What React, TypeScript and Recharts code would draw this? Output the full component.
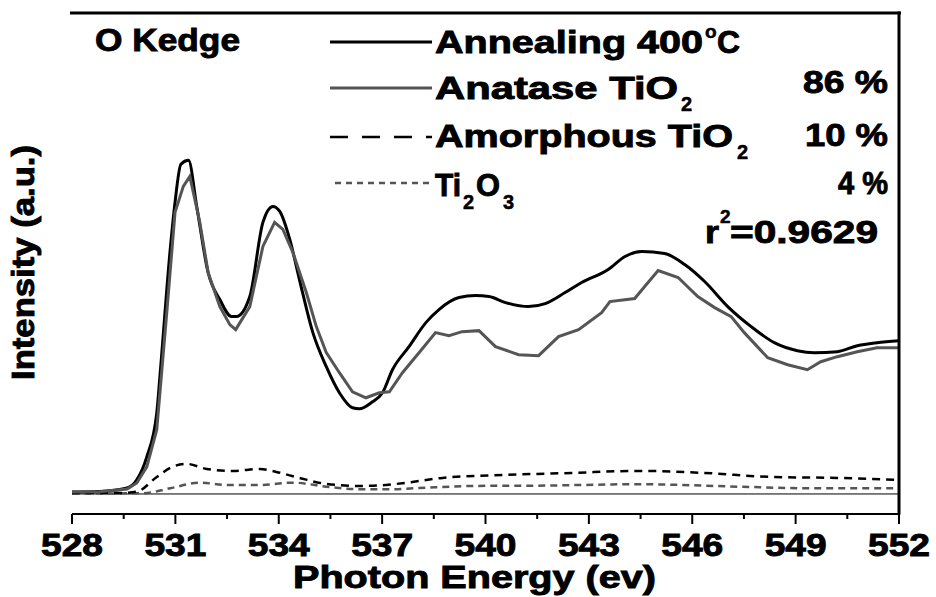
import { LineChart, Line, XAxis, YAxis, ReferenceLine } from 'recharts'

// photon energy (eV) / intensity (a.u.)
const annealing = [
  [528.0, 0.2], [528.8, 0.25], [529.6, 0.6], [529.88, 1.4], [530.17, 3.7], [530.46, 8.1],
  [530.56, 12.1], [530.85, 24.4], [530.99, 29.1], [531.16, 32.9], [531.38, 33.3],
  [531.62, 28.7], [531.95, 22.1], [532.29, 19.4], [532.63, 17.7], [532.77, 17.7],
  [533.16, 19.7], [533.54, 27.1], [533.83, 28.7], [534.03, 28.2], [534.32, 25.4],
  [534.6, 21.4], [534.99, 16.1], [535.38, 12.7], [535.76, 10.1], [536.14, 8.6],
  [536.34, 8.5], [536.72, 9.2], [537.01, 10.1], [537.3, 12.4], [537.78, 14.7],
  [538.27, 17.1], [538.65, 18.4], [539.23, 19.6], [539.71, 19.8], [540.1, 19.7],
  [540.58, 19.1], [541.25, 18.7], [541.73, 19.0], [542.31, 20.1], [542.79, 21.1],
  [543.56, 22.4], [544.05, 23.7], [544.53, 24.2], [545.2, 24.0], [545.78, 22.9],
  [546.36, 21.2], [547.03, 18.7], [547.71, 16.7], [548.38, 15.1], [549.05, 14.3],
  [549.54, 14.1], [550.21, 14.2], [550.79, 14.8], [551.36, 15.1], [552.0, 15.3],
]

const anatase = [
  [528.0, 0.2], [528.8, 0.22], [529.6, 0.5], [529.88, 1.1], [530.17, 2.7], [530.46, 6.4],
  [530.75, 18.1], [530.99, 28.1], [531.23, 30.7], [531.42, 31.7], [531.71, 27.1],
  [531.95, 22.1], [532.29, 18.7], [532.58, 16.9], [532.75, 16.4], [533.16, 18.7],
  [533.54, 24.7], [533.88, 27.1], [534.12, 26.4], [534.41, 24.1], [534.8, 20.1],
  [535.09, 16.7], [535.38, 14.1], [535.76, 12.1], [536.14, 10.2], [536.53, 9.6],
  [536.92, 10.1], [537.21, 10.2], [537.59, 12.1], [538.07, 14.1], [538.55, 16.1],
  [538.94, 15.8], [539.32, 16.2], [539.81, 16.3], [540.29, 14.7], [540.96, 13.9],
  [541.54, 13.8], [542.12, 15.7], [542.7, 16.4], [543.37, 18.1], [543.61, 19.2],
  [544.33, 19.5], [544.62, 20.7], [545.01, 22.3], [545.59, 21.6], [546.16, 19.7],
  [546.65, 18.6], [547.13, 17.7], [547.51, 16.1], [548.19, 13.6], [548.77, 12.9],
  [549.34, 12.4], [549.73, 13.2], [550.21, 13.7], [550.79, 14.2], [551.36, 14.6],
  [552.0, 14.6],
]

const amorphous = [
  [528.0, 0.1], [529.4, 0.1], [529.88, 0.23], [530.46, 1.7], [530.85, 2.6], [531.33, 3.0],
  [531.91, 2.5], [532.68, 2.3], [533.45, 2.5], [533.93, 2.2], [534.6, 1.6], [535.38, 1.0],
  [536.34, 0.8], [537.11, 0.9], [537.88, 1.2], [538.75, 1.6], [540.58, 1.9], [542.5, 2.1],
  [544.43, 2.3], [546.36, 2.1], [548.28, 1.7], [550.21, 1.6], [552.0, 1.4],
]

const ti2o3 = [
  [528.0, 0.05], [530.08, 0.07], [530.85, 0.57], [531.71, 1.13], [532.48, 0.9],
  [533.45, 0.9], [534.41, 1.13], [535.38, 0.73], [536.34, 0.47], [537.3, 0.47],
  [538.27, 0.63], [539.71, 0.8], [541.54, 0.83], [544.43, 0.97], [547.32, 0.73],
  [549.25, 0.57], [552.0, 0.57],
]

const majorTicks = [528, 531, 534, 537, 540, 543, 546, 549, 552]
const minorTicks = [529.5, 532.5, 535.5, 538.5, 541.5, 544.5, 547.5, 550.5]

const toRows = (pts: number[][]) => pts.map(([e, v]) => ({ e, v }))

const FONT = '"Liberation Sans", Arial, sans-serif'

const XTick = (props: any) => {
  const { x, y, payload } = props
  const major = majorTicks.includes(payload.value)
  return (
    <g>
      <line x1={x} x2={x} y1={y} y2={y + (major ? 10 : 5)} stroke="#000" strokeWidth={2} />
      {major && (
        <text
          x={x}
          y={y + 42}
          textAnchor="middle"
          fontFamily={FONT}
          fontWeight="bold"
          fontSize={32}
          stroke="#000"
          strokeWidth={0.9}
          textLength={62}
          lengthAdjust="spacingAndGlyphs"
        >
          {payload.value}
        </text>
      )}
    </g>
  )
}

const T = (p: any) => (
  <text
    x={p.x}
    y={p.y}
    fontFamily={FONT}
    fontWeight="bold"
    fontSize={p.size || 32}
    stroke="#000"
    strokeWidth={p.size ? 0.5 : 0.9}
    textLength={p.len}
    lengthAdjust={p.len ? 'spacingAndGlyphs' : undefined}
  >
    {p.children}
  </text>
)

const Labels = () => (
  <svg
    width={936}
    height={597}
    style={{ position: 'absolute', left: 0, top: 0, pointerEvents: 'none' }}
  >
    {/* plot frame: top and right edges */}
    <rect x={70} y={11.5} width={831} height={3} fill="#000" />
    <rect x={897.5} y={11.5} width={3} height={503} fill="#000" />

    <T x={95} y={51} len={145}>O Kedge</T>

    <line x1={330} x2={432} y1={42} y2={42} stroke="#000" strokeWidth={3} />
    <T x={435} y={53} len={268}>Annealing 400</T>
    <T x={705} y={38} size={19}>o</T>
    <T x={717} y={53} len={23}>C</T>

    <line x1={330} x2={432} y1={88} y2={88} stroke="#555" strokeWidth={3} />
    <T x={435} y={99} len={243}>Anatase TiO</T>
    <T x={681} y={111} size={20}>2</T>
    <T x={803} y={93} len={85}>86 %</T>

    <line x1={330} x2={432} y1={137} y2={137} stroke="#000" strokeWidth={2.5} strokeDasharray="18 14" />
    <T x={435} y={147} len={298}>Amorphous TiO</T>
    <T x={737} y={159} size={20}>2</T>
    <T x={805} y={146} len={83}>10 %</T>

    <line x1={335} x2={430} y1={183} y2={183} stroke="#555" strokeWidth={2.5} strokeDasharray="6 5" />
    <T x={435} y={196} len={26}>Ti</T>
    <T x={463} y={209} size={20}>2</T>
    <T x={476} y={196} len={24}>O</T>
    <T x={503} y={209} size={20}>3</T>
    <T x={838} y={194} len={50}>4 %</T>

    <T x={705} y={243} len={14}>r</T>
    <T x={720} y={223} size={19}>2</T>
    <T x={730} y={243} len={148}>=0.9629</T>

    <text
      x={293}
      y={588}
      fontFamily={FONT}
      fontWeight="bold"
      fontSize={31}
      stroke="#000"
      strokeWidth={0.9}
      textLength={363}
      lengthAdjust="spacingAndGlyphs"
    >
      Photon Energy (ev)
    </text>
    <text
      transform="translate(34, 262.5) rotate(-90)"
      textAnchor="middle"
      fontFamily={FONT}
      fontWeight="bold"
      fontSize={31}
      stroke="#000"
      strokeWidth={0.9}
      textLength={235}
      lengthAdjust="spacingAndGlyphs"
    >
      Intensity (a.u.)
    </text>
  </svg>
)

export default function App() {
  return (
    <div style={{ position: 'absolute', left: 0, top: 0, width: 936, height: 597, background: '#fff' }}>
      <LineChart width={936} height={597} margin={{ top: 13, right: 37, bottom: 0, left: 72 }}>
        <XAxis
          dataKey="e"
          type="number"
          domain={[528, 552]}
          ticks={[...majorTicks, ...minorTicks].sort((a, b) => a - b)}
          allowDuplicatedCategory={false}
          height={83}
          tickSize={0}
          tickMargin={0}
          tickLine={false}
          tick={<XTick />}
          axisLine={{ stroke: '#000', strokeWidth: 2 }}
          interval={0}
        />
        <YAxis
          type="number"
          domain={[-2, 48]}
          width={0}
          tick={false}
          tickLine={false}
          axisLine={{ stroke: '#000', strokeWidth: 2.5 }}
        />
        <ReferenceLine y={0} stroke="#000" strokeWidth={1} />
        <Line
          data={toRows(ti2o3)}
          dataKey="v"
          type="monotone"
          stroke="#555"
          strokeWidth={2.5}
          strokeDasharray="7 5"
          dot={false}
          isAnimationActive={false}
        />
        <Line
          data={toRows(amorphous)}
          dataKey="v"
          type="monotone"
          stroke="#000"
          strokeWidth={2.5}
          strokeDasharray="8 6"
          dot={false}
          isAnimationActive={false}
        />
        <Line
          data={toRows(annealing)}
          dataKey="v"
          type="monotone"
          stroke="#000"
          strokeWidth={3}
          dot={false}
          isAnimationActive={false}
        />
        <Line
          data={toRows(anatase)}
          dataKey="v"
          type="linear"
          stroke="#555"
          strokeWidth={3}
          dot={false}
          isAnimationActive={false}
        />
      </LineChart>
      <Labels />
    </div>
  )
}
